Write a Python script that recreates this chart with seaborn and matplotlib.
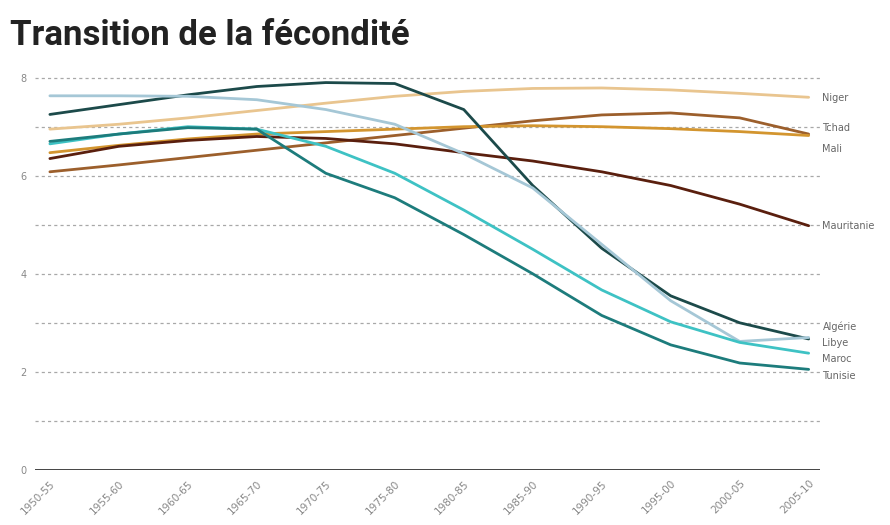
import numpy as np
import pandas as pd
import matplotlib
matplotlib.use("Agg")
import matplotlib.pyplot as plt
import matplotlib.transforms as mtransforms
import seaborn as sns

# Data
periods = ["1950-55", "1955-60", "1960-65", "1965-70", "1970-75", "1975-80",
           "1980-85", "1985-90", "1990-95", "1995-00", "2000-05", "2005-10"]

niger = [6.95, 7.05, 7.18, 7.33, 7.48, 7.62, 7.72, 7.78, 7.79, 7.75, 7.68, 7.6]
tchad = [6.08, 6.22, 6.37, 6.52, 6.67, 6.82, 6.97, 7.12, 7.24, 7.28, 7.18, 6.85]
mali = [6.47, 6.62, 6.75, 6.85, 6.9, 6.95, 7.0, 7.02, 7.0, 6.96, 6.9, 6.82]
mauritanie = [6.35, 6.6, 6.72, 6.8, 6.76, 6.65, 6.47, 6.3, 6.08, 5.8, 5.42, 4.98]
algerie = [7.25, 7.45, 7.65, 7.82, 7.9, 7.88, 7.35, 5.8, 4.52, 3.55, 3.0, 2.67]
libye = [7.63, 7.63, 7.62, 7.55, 7.35, 7.05, 6.45, 5.75, 4.6, 3.45, 2.62, 2.7]
maroc = [6.65, 6.85, 7.0, 6.95, 6.6, 6.05, 5.3, 4.5, 3.67, 3.02, 2.6, 2.38]
tunisie = [6.7, 6.85, 6.98, 6.95, 6.05, 5.55, 4.8, 4.0, 3.15, 2.55, 2.18, 2.05]

countries = ["Niger", "Tchad", "Mali", "Mauritanie", "Algérie", "Libye", "Maroc", "Tunisie"]
values = [niger, tchad, mali, mauritanie, algerie, libye, maroc, tunisie]
colors = ["#e9c58f", "#9c5f2c", "#d3952f", "#5a1f0e", "#1c4a4a", "#a5c7d6", "#3ec2c4", "#1d7c7c"]
label_y = [7.59, 6.98, 6.55, 4.98, 2.92, 2.59, 2.27, 1.92]

rows = []
for c, v in zip(countries, values):
    for i, p in enumerate(periods):
        rows.append({"pays": c, "x": i, "tfr": v[i]})
df = pd.DataFrame(rows)

sns.set_style("white")
fig = plt.figure(figsize=(8.9, 5.25), dpi=100)
ax = fig.add_axes([0.039, 0.105, 0.882, 0.762])

# gridlines
for g in range(1, 9):
    ax.axhline(g, color="#a8a8a8", lw=0.9, ls=(0, (2.5, 2.5)), zorder=0)
ax.axhline(0, color="#444444", lw=1.4, zorder=1)

sns.lineplot(data=df, x="x", y="tfr", hue="pays", hue_order=countries,
             palette=dict(zip(countries, colors)), lw=2.0, legend=False, ax=ax)

for c, ly, col in zip(countries, label_y, colors):
    ax.text(11.2, ly, c, fontsize=7, color="#666666", va="center", ha="left")

ax.set_xlim(-0.22, 11.16)
ax.set_ylim(0, 8.16)
ax.set_yticks([0, 2, 4, 6, 8])
ax.set_yticklabels(["0", "2", "4", "6", "8"], fontsize=7, color="#888888")
ax.set_xticks(range(len(periods)))
ax.set_xticklabels(periods, rotation=45, ha="right", rotation_mode="anchor",
                   fontsize=7.5, color="#888888")
shift = mtransforms.ScaledTranslation(10 / 100, 0, fig.dpi_scale_trans)
for lab in ax.get_xticklabels():
    lab.set_transform(lab.get_transform() + shift)
ax.tick_params(axis="both", length=0, pad=6)
ax.set_xlabel("")
ax.set_ylabel("")
for s in ax.spines.values():
    s.set_visible(False)

fig.text(0.011, 0.914, "Transition de la fécondité", fontsize=25, fontweight="bold",
         family="Roboto", color="#222222", va="baseline", ha="left")

fig.savefig("out.png", dpi=100)
